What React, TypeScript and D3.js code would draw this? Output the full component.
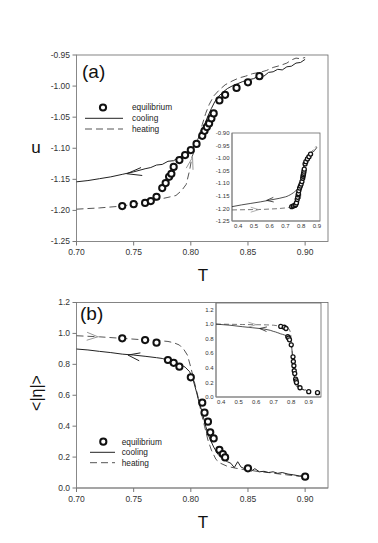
import React from "react";
import * as d3 from "d3";

// equilibrium points, panel (a): [T, u]
const eqA: [number, number][] = [
  [0.74, -1.193], [0.75, -1.19], [0.76, -1.188], [0.765, -1.185], [0.77, -1.178],
  [0.775, -1.164], [0.778, -1.156], [0.781, -1.146], [0.783, -1.141], [0.785, -1.13],
  [0.79, -1.119], [0.795, -1.111], [0.8, -1.103], [0.805, -1.093], [0.81, -1.08],
  [0.812, -1.072], [0.814, -1.066], [0.816, -1.06], [0.818, -1.052], [0.82, -1.044],
  [0.825, -1.023], [0.83, -1.014], [0.84, -1.003], [0.85, -0.994], [0.86, -0.984],
];
const coolA: [number, number][] = [
  [0.7, -1.154], [0.71, -1.152], [0.72, -1.149], [0.73, -1.146], [0.74, -1.142],
  [0.75, -1.138], [0.76, -1.133], [0.765, -1.131], [0.77, -1.127], [0.775, -1.126],
  [0.78, -1.121], [0.785, -1.12], [0.79, -1.114], [0.795, -1.11], [0.8, -1.104],
  [0.803, -1.096], [0.806, -1.086], [0.809, -1.074], [0.812, -1.062], [0.815, -1.048],
  [0.818, -1.036], [0.821, -1.025], [0.824, -1.017], [0.828, -1.01], [0.832, -1.004],
  [0.836, -1.0], [0.84, -0.997], [0.845, -0.993], [0.85, -0.99], [0.855, -0.988],
  [0.86, -0.983], [0.864, -0.984], [0.868, -0.978], [0.872, -0.977], [0.876, -0.973],
  [0.88, -0.974], [0.884, -0.969], [0.888, -0.968], [0.892, -0.963], [0.896, -0.962],
  [0.9, -0.957],
];
const heatA: [number, number][] = [
  [0.7, -1.198], [0.72, -1.196], [0.74, -1.193], [0.76, -1.187], [0.77, -1.183],
  [0.78, -1.179], [0.787, -1.176], [0.792, -1.168], [0.796, -1.158], [0.799, -1.135],
  [0.801, -1.114], [0.804, -1.1], [0.807, -1.082], [0.81, -1.062], [0.813, -1.044],
  [0.816, -1.03], [0.82, -1.016], [0.825, -1.006], [0.83, -0.998], [0.836, -0.992],
  [0.842, -0.987], [0.848, -0.984], [0.854, -0.98], [0.86, -0.978], [0.866, -0.975],
  [0.872, -0.97], [0.878, -0.967], [0.884, -0.963], [0.888, -0.958], [0.892, -0.955],
  [0.896, -0.956], [0.9, -0.954],
];
// low temperature part, only in the inset of (a)
const coolALow: [number, number][] = [
  [0.36, -1.193], [0.42, -1.186], [0.48, -1.18], [0.54, -1.174], [0.6, -1.167], [0.66, -1.16],
];
const heatALow: [number, number][] = [
  [0.36, -1.206], [0.45, -1.205], [0.55, -1.204], [0.65, -1.201],
];

// panel (b): [T, <|eta|>]
const eqB: [number, number][] = [
  [0.74, 0.968], [0.76, 0.957], [0.77, 0.94], [0.78, 0.828], [0.785, 0.81],
  [0.79, 0.785], [0.8, 0.716], [0.81, 0.552], [0.812, 0.487], [0.815, 0.429],
  [0.817, 0.36], [0.82, 0.321], [0.825, 0.246], [0.828, 0.22], [0.83, 0.198],
  [0.85, 0.127], [0.9, 0.073],
];
const eqBExtra: [number, number][] = [[0.95, 0.06]];
const coolB: [number, number][] = [
  [0.7, 0.899], [0.71, 0.893], [0.72, 0.884], [0.73, 0.876], [0.74, 0.866],
  [0.75, 0.86], [0.76, 0.852], [0.77, 0.843], [0.775, 0.838], [0.78, 0.826],
  [0.785, 0.816], [0.79, 0.803], [0.795, 0.782], [0.799, 0.752], [0.802, 0.7],
  [0.805, 0.62], [0.807, 0.56], [0.81, 0.49], [0.813, 0.4], [0.816, 0.33],
  [0.82, 0.265], [0.824, 0.215], [0.828, 0.19], [0.832, 0.17], [0.835, 0.16],
  [0.838, 0.132], [0.841, 0.17], [0.844, 0.135], [0.847, 0.125], [0.85, 0.128],
  [0.853, 0.11], [0.856, 0.125], [0.86, 0.105], [0.864, 0.108], [0.868, 0.1],
  [0.872, 0.105], [0.876, 0.095], [0.88, 0.1], [0.885, 0.09], [0.89, 0.085],
  [0.895, 0.078], [0.9, 0.076],
];
const heatB: [number, number][] = [
  [0.7, 0.985], [0.72, 0.978], [0.74, 0.968], [0.76, 0.958], [0.77, 0.955],
  [0.78, 0.948], [0.785, 0.94], [0.79, 0.925], [0.794, 0.895], [0.797, 0.86],
  [0.8, 0.78], [0.803, 0.69], [0.806, 0.6], [0.809, 0.49], [0.812, 0.4],
  [0.815, 0.31], [0.818, 0.245], [0.822, 0.185], [0.826, 0.16], [0.832, 0.14],
  [0.838, 0.13], [0.845, 0.12], [0.852, 0.115], [0.86, 0.105], [0.868, 0.1],
  [0.876, 0.092], [0.884, 0.085], [0.89, 0.08], [0.895, 0.076], [0.9, 0.08],
];
const coolBLow: [number, number][] = [
  [0.37, 1.0], [0.45, 0.985], [0.52, 0.965], [0.58, 0.95], [0.64, 0.935], [0.68, 0.915],
];
const heatBLow: [number, number][] = [
  [0.37, 1.0], [0.45, 0.998], [0.52, 0.995], [0.6, 0.992], [0.66, 0.99],
];

const xTicksMain = [0.7, 0.75, 0.8, 0.85, 0.9];
const yTicksA = [-0.95, -1.0, -1.05, -1.1, -1.15, -1.2, -1.25];
const yTicksB = [0, 0.2, 0.4, 0.6, 0.8, 1.0, 1.2];
const xTicksInset = [0.4, 0.5, 0.6, 0.7, 0.8, 0.9];
const yTicksInsetA = [-0.9, -0.95, -1.0, -1.05, -1.1, -1.15, -1.2, -1.25];
const yTicksInsetB = [0, 0.2, 0.4, 0.6, 0.8, 1.0, 1.2];
const legendLabels = ["equilibrium", "cooling", "heating"];

const FONT = "'Liberation Sans', Arial, sans-serif";
const fmt = (d: number, n: number) => d3.format(`.${n}f`)(d).replace("\u2212", "-");

type Sc = d3.ScaleLinear<number, number>;

const chevron = (tx: number, ty: number, dx: number, dy: number, L: number, hw: number) => {
  const len = Math.hypot(dx, dy);
  const ux = dx / len, uy = dy / len;
  const bx = tx - ux * L, by = ty - uy * L;
  return `M${bx - uy * hw},${by + ux * hw}L${tx},${ty}L${bx + uy * hw},${by - ux * hw}`;
};

const Frame = ({ x, y, xt, yt, xd, yd, fs, tick }: {
  x: Sc; y: Sc; xt: number[]; yt: number[]; xd: number; yd: number; fs: number; tick: number;
}) => {
  const [x0, x1] = x.range();
  const [y0, y1] = y.range();
  return (
    <g fontFamily={FONT} fontSize={fs} fill="#333">
      <rect x={x0} y={y1} width={x1 - x0} height={y0 - y1} fill="white" stroke="#666" strokeWidth={0.8} />
      <line x1={x0} x2={x0} y1={y0} y2={y1} stroke="#888" strokeWidth={1} />
      <line x1={x0} x2={x1} y1={y0} y2={y0} stroke="#888" strokeWidth={1} />
      {xt.map((t) => (
        <g key={"x" + t}>
          {tick > 0 && <line x1={x(t)} x2={x(t)} y1={y0} y2={y0 + tick} stroke="#777" />}
          <text x={x(t)} y={y0 + tick + fs + 1} textAnchor="middle">{fmt(t, xd)}</text>
        </g>
      ))}
      {yt.map((t) => (
        <g key={"y" + t}>
          {tick > 0 && <line x1={x0 - tick} x2={x0} y1={y(t)} y2={y(t)} stroke="#777" />}
          <text x={x0 - tick - 2.5} y={y(t)} dy="0.35em" textAnchor="end">{fmt(t, yd)}</text>
        </g>
      ))}
    </g>
  );
};

const Curves = ({ x, y, cool, heat, eq, r, sw, lw }: {
  x: Sc; y: Sc; cool: [number, number][]; heat: [number, number][]; eq: [number, number][];
  r: number; sw: number; lw: number;
}) => {
  const line = d3.line<[number, number]>().x((d) => x(d[0])).y((d) => y(d[1]));
  return (
    <g>
      <path d={line(heat) ?? ""} fill="none" stroke="#555" strokeWidth={lw} strokeDasharray={lw > 0.9 ? "7,4" : "5,3"} />
      <path d={line(cool) ?? ""} fill="none" stroke="#222" strokeWidth={lw} />
      {eq.map((d, i) => (
        <circle key={i} cx={x(d[0])} cy={y(d[1])} r={r} fill="white" stroke="#111" strokeWidth={sw} />
      ))}
    </g>
  );
};

const Legend = ({ cx, x0, x1, tx, ys }: { cx: number; x0: number; x1: number; tx: number; ys: number[] }) => (
  <g fontFamily={FONT} fontSize={8.3} fill="#222">
    <circle cx={cx} cy={ys[0]} r={3.1} fill="white" stroke="#111" strokeWidth={2} />
    <line x1={x0} x2={x1} y1={ys[1]} y2={ys[1]} stroke="#222" strokeWidth={1} />
    <line x1={x0} x2={x1} y1={ys[2]} y2={ys[2]} stroke="#555" strokeWidth={1} strokeDasharray="7,4" />
    {legendLabels.map((l, i) => (
      <text key={l} x={tx} y={ys[i]} dy="0.35em">{l}</text>
    ))}
  </g>
);

export default function App() {
  const xA = d3.scaleLinear().domain([0.7, 0.92]).range([76.5, 328]);
  const yA = d3.scaleLinear().domain([-1.25, -0.95]).range([241.5, 55]);
  const xB = d3.scaleLinear().domain([0.7, 0.92]).range([76.5, 328]);
  const yB = d3.scaleLinear().domain([0, 1.2]).range([488, 302.5]);
  const xIA = d3.scaleLinear().domain([0.36, 0.92]).range([232, 320]);
  const yIA = d3.scaleLinear().domain([-1.25, -0.9]).range([221, 133]);
  const xIB = d3.scaleLinear().domain([0.37, 0.97]).range([216, 321]);
  const yIB = d3.scaleLinear().domain([0, 1.29]).range([397, 303]);

  return (
    <svg width={378} height={543} style={{ position: "absolute", left: 0, top: 0, background: "white" }}>
      {/* panel (a) */}
      <Frame x={xA} y={yA} xt={xTicksMain} yt={yTicksA} xd={2} yd={2} fs={8.5} tick={4} />
      <Curves x={xA} y={yA} cool={coolA} heat={heatA} eq={eqA} r={3.1} sw={2} lw={1} />
      <path d={chevron(xA(0.744), yA(-1.141), -1, 0.15, 15, 4)} fill="none" stroke="#222" strokeWidth={1} />
      <path d={chevron(xA(0.8015), yA(-1.1146), 0.25, -1, 12, 3.5)} fill="none" stroke="#999" strokeWidth={1} />
      <text x={82} y={78} fontFamily={FONT} fontSize={19} fill="#111">(a)</text>
      <Legend cx={103} x0={85} x1={123} tx={132} ys={[107.5, 118.3, 129]} />
      <text x={36} y={148} dy="0.3em" textAnchor="middle" fontFamily={FONT} fontSize={17} fill="#111">u</text>
      <text x={203} y={281} textAnchor="middle" fontFamily={FONT} fontSize={17} fill="#111">T</text>

      {/* inset (a) */}
      <Frame x={xIA} y={yIA} xt={xTicksInset} yt={yTicksInsetA} xd={1} yd={2} fs={6} tick={0} />
      <Curves x={xIA} y={yIA} cool={[...coolALow, ...coolA]} heat={[...heatALow, ...heatA]} eq={eqA} r={2} sw={1.3} lw={0.8} />
      <path d={chevron(xIA(0.58), yIA(-1.168), -1, 0.1, 7, 2.3)} fill="none" stroke="#222" strokeWidth={0.8} />
      <path d={chevron(xIA(0.53), yIA(-1.205), 1, 0, 8, 2.5)} fill="none" stroke="#999" strokeWidth={0.8} />

      {/* panel (b) */}
      <Frame x={xB} y={yB} xt={xTicksMain} yt={yTicksB} xd={2} yd={1} fs={8.5} tick={4} />
      <Curves x={xB} y={yB} cool={coolB} heat={heatB} eq={eqB} r={3.1} sw={2} lw={1} />
      <path d={chevron(xB(0.745), yB(0.86), -1, -0.15, 12, 4)} fill="none" stroke="#222" strokeWidth={1} />
      <path d={chevron(xB(0.7187), yB(0.978), 1, 0.05, 11, 4)} fill="none" stroke="#999" strokeWidth={1} />
      <text x={80} y={319.5} fontFamily={FONT} fontSize={19} fill="#111">(b)</text>
      <Legend cx={103.3} x0={90} x1={115} tx={121.7} ys={[441.7, 452.3, 462.7]} />
      <text transform="translate(36,393) rotate(-90)" dy="0.35em" textAnchor="middle" fontFamily={FONT} fontSize={16} fill="#111">{"<|η|>"}</text>
      <text x={203} y={528} textAnchor="middle" fontFamily={FONT} fontSize={17} fill="#111">T</text>

      {/* inset (b) */}
      <Frame x={xIB} y={yIB} xt={xTicksInset} yt={yTicksInsetB} xd={1} yd={1} fs={6} tick={0} />
      <Curves x={xIB} y={yIB} cool={[...coolBLow, ...coolB]} heat={[...heatBLow, ...heatB]} eq={[...eqB, ...eqBExtra]} r={2} sw={1.3} lw={0.8} />
      <path d={chevron(xIB(0.6), yIB(0.993), 1, 0, 8, 2.5)} fill="none" stroke="#999" strokeWidth={0.8} />
      <path d={chevron(xIB(0.62), yIB(0.94), -1, -0.1, 7, 2.3)} fill="none" stroke="#222" strokeWidth={0.8} />
    </svg>
  );
}
